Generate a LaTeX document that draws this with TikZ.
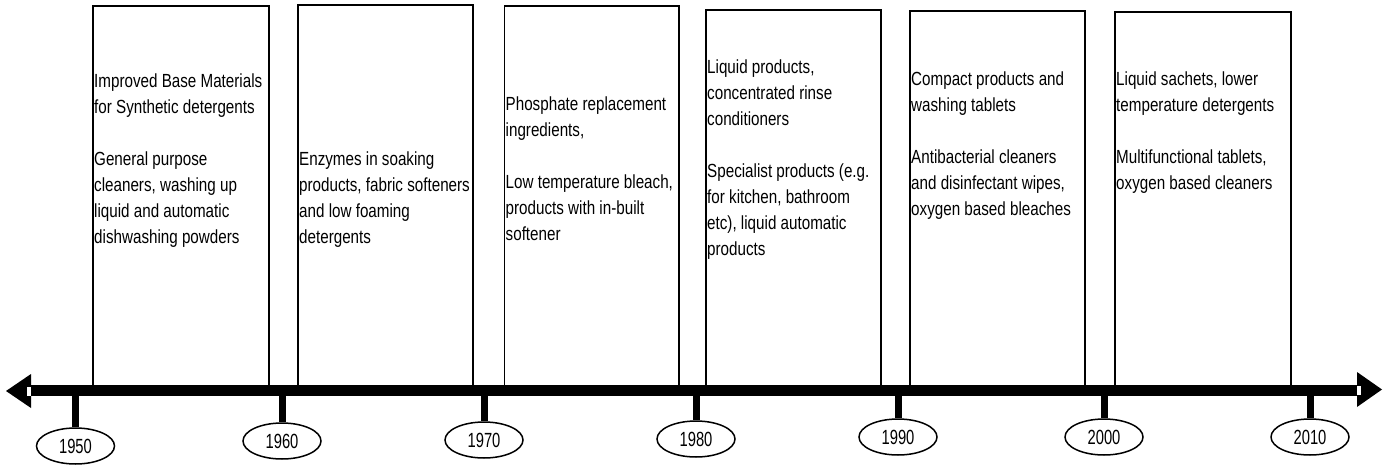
\documentclass[tikz,border=0pt]{standalone}
\usepackage{fontspec}
\setmainfont{Liberation Sans}
\newfontfamily\bodyf{Liberation Sans}[FakeStretch=0.8]
\newfontfamily\yearf{Liberation Sans}[FakeStretch=0.72]
\usetikzlibrary{shapes.geometric}
\begin{document}
\begin{tikzpicture}[x=1pt,y=-1pt,
  boxst/.style={draw, line width=1.6pt, anchor=north west, inner sep=0pt},
  txt/.style={anchor=base west, align=left, inner sep=0pt, font=\bodyf\fontsize{19}{26}\selectfont},
  yr/.style={draw, ellipse, line width=1.5pt, minimum width=78pt, minimum height=36pt, inner sep=0pt, font=\yearf\fontsize{20.5}{20.5}\selectfont},
  tick/.style={line width=7pt},
  axis/.style={line width=11pt}]
\useasboundingbox (0,0) rectangle (1388,465);
% boxes
\node[boxst, minimum width=176pt, minimum height=383pt] (b1) at (92,5) {};
\node[boxst, minimum width=175pt, minimum height=384pt] (b2) at (297,4) {};
\node[boxst, minimum width=174.5pt, minimum height=383pt] (b3) at (503.5,5) {};
\node[boxst, minimum width=175pt, minimum height=378.5pt] (b4) at (705,9.5) {};
\node[boxst, minimum width=175pt, minimum height=378pt] (b5) at (909,10) {};
\node[boxst, minimum width=176pt, minimum height=377pt] (b6) at (1114,11) {};
% texts (anchored at the baseline of their last line)
\node[txt] (t1) at (94,243.5) {Improved Base Materials\\for Synthetic detergents\\[26pt]General purpose\\cleaners, washing up\\liquid and automatic\\dishwashing powders};
\node[txt] (t2) at (299,243.5) {Enzymes in soaking\\products, fabric softeners\\and low foaming\\detergents};
\node[txt] (t3) at (505.5,240.5) {Phosphate replacement\\ingredients,\\[26pt]Low temperature bleach,\\products with in-built\\softener};
\node[txt] (t4) at (707,255.5) {Liquid products,\\concentrated rinse\\conditioners\\[26pt]Specialist products (e.g.\\for kitchen, bathroom\\etc), liquid automatic\\products};
\node[txt] (t5) at (911,215.5) {Compact products and\\washing tablets\\[26pt]Antibacterial cleaners\\and disinfectant wipes,\\oxygen based bleaches};
\node[txt] (t6) at (1116,189.5) {Liquid sachets, lower\\temperature detergents\\[26pt]Multifunctional tablets,\\oxygen based cleaners};
% axis
\coordinate (al) at (31,390.5);
\coordinate (ar) at (1357,390.5);
\draw[axis] (al) -- (ar);
\fill (6,391) -- (31,374) -- (31,408) -- cycle;
\fill (1382,389.5) -- (1357,372) -- (1357,407) -- cycle;
\fill[white] (26.5,386.5) rectangle (30.5,395.5);
\fill[white] (1357,385.5) rectangle (1360.5,394.5);
% years
\node[yr] (y1950) at (75.5,446) {1950};
\node[yr] (y1960) at (282,441) {1960};
\node[yr] (y1970) at (484,440) {1970};
\node[yr] (y1980) at (696,439) {1980};
\node[yr] (y1990) at (898,437) {1990};
\node[yr] (y2000) at (1104,437) {2000};
\node[yr] (y2010) at (1310,437) {2010};
\foreach \y in {1950,1960,1970,1980,1990,2000,2010}{
  \draw[tick] (y\y.north |- 0,395) -- (y\y.north);
}
\end{tikzpicture}
\end{document}
